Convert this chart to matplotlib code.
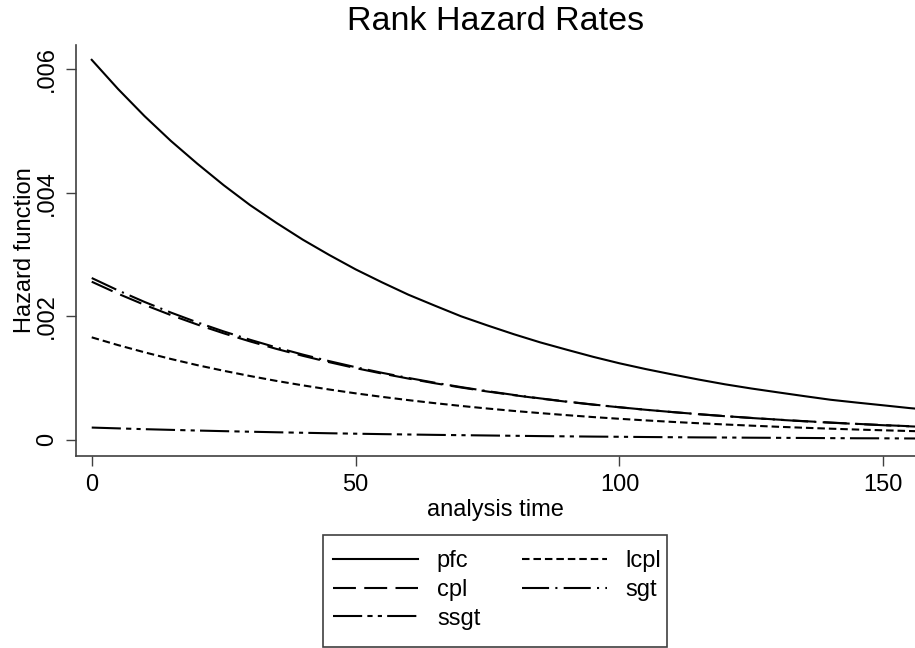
import matplotlib
matplotlib.use("Agg")
import matplotlib.pyplot as plt
from matplotlib.lines import Line2D
from matplotlib.patches import Rectangle

plt.rcParams['font.family'] = ['Liberation Sans', 'DejaVu Sans']

# ---- data ----
t = [0, 5, 10, 15, 20, 25, 30, 35, 40, 45, 50, 55, 60, 65, 70, 75, 80, 85, 90, 95,
     100, 105, 110, 115, 120, 125, 130, 135, 140, 145, 150, 155, 157]
pfc = [0.00615, 0.005677, 0.00524, 0.004838, 0.00447, 0.004122, 0.00380, 0.003512, 0.00324,
       0.002993, 0.00276, 0.00255, 0.00235, 0.002173, 0.00200, 0.001852, 0.00171, 0.001578,
       0.00146, 0.001345, 0.00124, 0.001146, 0.00106, 0.000977, 0.00090, 0.000832, 0.00077,
       0.000709, 0.00065, 0.000604, 0.00056, 0.000515, 0.00050]
lcpl = [0.00166, 0.001534, 0.001418, 0.00131, 0.00121, 0.001119, 0.001034, 0.000955, 0.000883,
        0.000816, 0.000754, 0.000697, 0.000644, 0.000595, 0.00055, 0.000508, 0.000469, 0.000434,
        0.000401, 0.00037, 0.000342, 0.000316, 0.000292, 0.00027, 0.00025, 0.000231, 0.000213,
        0.000197, 0.000182, 0.000168, 0.000156, 0.000144, 0.00014]
cpl = [0.00256, 0.002365, 0.002186, 0.00202, 0.001867, 0.001725, 0.001594, 0.001473, 0.001361,
       0.001258, 0.001162, 0.001074, 0.000993, 0.000917, 0.000848, 0.000783, 0.000724, 0.000669,
       0.000618, 0.000571, 0.000528, 0.000488, 0.000451, 0.000417, 0.000385, 0.000356, 0.000329,
       0.000304, 0.000281, 0.00026, 0.00024, 0.000222, 0.000215]
sgt = [0.00262, 0.002419, 0.002233, 0.002061, 0.001902, 0.001756, 0.001621, 0.001496, 0.001381,
       0.001275, 0.001177, 0.001086, 0.001003, 0.000926, 0.000855, 0.000789, 0.000728, 0.000672,
       0.000621, 0.000573, 0.000529, 0.000488, 0.000451, 0.000416, 0.000384, 0.000355, 0.000327,
       0.000302, 0.000279, 0.000258, 0.000238, 0.00022, 0.000213]
ssgt = [0.0002, 0.000187, 0.000174, 0.000163, 0.000152, 0.000142, 0.000133, 0.000124, 0.000116,
        0.000108, 0.000101, 0.000094, 0.000088, 0.000082, 0.000077, 0.000072, 0.000067, 0.000062,
        0.000058, 0.000054, 0.000051, 0.000047, 0.000044, 0.000041, 0.000039, 0.000036, 0.000034,
        0.000032, 0.000029, 0.000027, 0.000026, 0.000024, 0.000023]

xticks = [0, 50, 100, 150]
yticks = [0, 0.002, 0.004, 0.006]
yticklabels = ['0', '.002', '.004', '.006']

W, H = 915, 648
fig = plt.figure(figsize=(W / 100, H / 100), dpi=100)
ax = fig.add_axes([76 / W, 1 - 456 / H, (915 - 76) / W, (456 - 45) / H])

lw = 1.5
styles = {
    'pfc': '-',
    'lcpl': (0, (3.6, 1.9)),
    'cpl': (0, (11, 4)),
    'sgt': (0, (13, 3, 1, 3)),
    'ssgt': (0, (14, 2.5, 2.5, 2.5, 2, 2.5)),
}
series = [('pfc', pfc), ('lcpl', lcpl), ('cpl', cpl), ('sgt', sgt), ('ssgt', ssgt)]
for name, vals in series:
    ax.plot(t, vals, color='black', lw=lw, linestyle=styles[name], label=name)

ax.set_xlim(-2.98, 156.0)
ax.set_ylim(-0.00026, 0.00639)
ax.set_xticks(xticks)
ax.set_xticklabels([str(v) for v in xticks])
ax.set_yticks(yticks)
ax.set_yticklabels(yticklabels)

for s in ['top', 'right']:
    ax.spines[s].set_visible(False)
for s in ['left', 'bottom']:
    ax.spines[s].set_color('#404040')
    ax.spines[s].set_linewidth(1.2)
ax.tick_params(axis='both', direction='out', length=7.2, width=1.0, color='#404040',
               labelsize=17, pad=6)
ax.tick_params(axis='y', labelrotation=90)
for lab in ax.get_yticklabels():
    lab.set_va('center')

ax.set_xlabel('analysis time', fontsize=17, labelpad=2)
ax.set_ylabel('Hazard function', fontsize=17, labelpad=0)
fig.text(495.5 / W, 1 - 21 / H, 'Rank Hazard Rates', fontsize=24.5, ha='center', va='center')

# legend laid out row-wise: pfc lcpl / cpl sgt / ssgt
order = ['pfc', 'cpl', 'ssgt', 'lcpl', 'sgt']
handles = [Line2D([], [], color='black', lw=lw, linestyle=styles[n]) for n in order]
leg = fig.legend(handles, order, loc='upper left', ncol=2,
                 bbox_to_anchor=(333 / W, 1 - 550 / H), bbox_transform=fig.transFigure,
                 fontsize=17, frameon=False,
                 handlelength=3.6, handletextpad=0.8, columnspacing=1.75,
                 labelspacing=0.29, borderpad=0, borderaxespad=0)
fig.patches.append(Rectangle((323 / W, 1 - 647 / H), (667 - 323) / W, (647 - 535) / H,
                             transform=fig.transFigure, fill=False,
                             edgecolor='#404040', linewidth=1.2))

fig.savefig('out.png', dpi=100, facecolor='white')
